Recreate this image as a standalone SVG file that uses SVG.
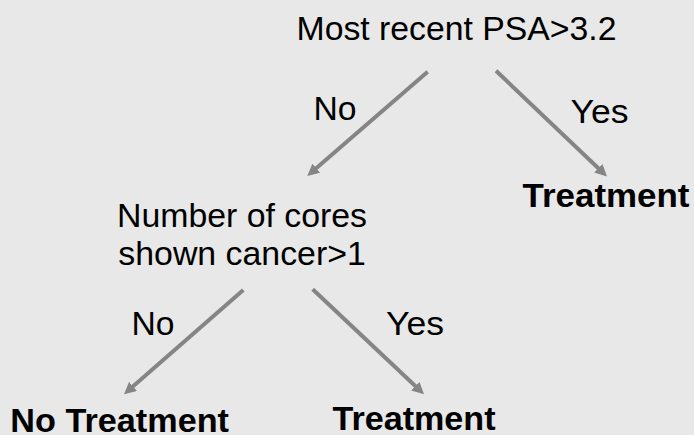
<svg xmlns="http://www.w3.org/2000/svg" width="694" height="435" viewBox="0 0 694 435">
  <defs>
    <style>
      .t { font-family: "Liberation Sans", Arial, Helvetica, sans-serif; font-size: 32.5px; fill: #000; }
      .b { font-weight: bold; }
      .edge { stroke: #858585; stroke-width: 4; fill: none; }
    </style>
    <marker id="arr" viewBox="0 0 12 12" refX="4" refY="6" markerWidth="12" markerHeight="12" markerUnits="userSpaceOnUse" orient="auto">
      <path d="M0,0 L12,6 L0,12 z" fill="#858585"/>
    </marker>
  </defs>
  <rect x="0" y="0" width="694" height="435" fill="#e8e8e8"/>

  <g id="connectors">
    <line class="edge" x1="427.7" y1="71.7" x2="313.3" y2="170.8" marker-end="url(#arr)"/>
    <line class="edge" x1="496" y1="70.7" x2="601.2" y2="171" marker-end="url(#arr)"/>
    <line class="edge" x1="243.3" y1="290" x2="130" y2="389" marker-end="url(#arr)"/>
    <line class="edge" x1="312.7" y1="289.3" x2="418.2" y2="388.8" marker-end="url(#arr)"/>
    <text class="t" x="313.5" y="120" textLength="43" lengthAdjust="spacingAndGlyphs">No</text>
    <text class="t" x="570.5" y="123.3" textLength="58" lengthAdjust="spacingAndGlyphs">Yes</text>
    <text class="t" x="131.5" y="335" textLength="43" lengthAdjust="spacingAndGlyphs">No</text>
    <text class="t" x="386" y="335" textLength="58" lengthAdjust="spacingAndGlyphs">Yes</text>
  </g>

  <g id="node-psa">
    <text class="t" x="296.5" y="40" textLength="320" lengthAdjust="spacingAndGlyphs">Most recent PSA&gt;3.2</text>
  </g>

  <g id="node-treatment-1">
    <text class="t b" x="522.5" y="206.7" textLength="167" lengthAdjust="spacingAndGlyphs">Treatment</text>
  </g>

  <g id="node-cores">
    <text class="t" x="117" y="226.7" textLength="250" lengthAdjust="spacingAndGlyphs">Number of cores</text>
    <text class="t" x="118.3" y="265" textLength="247.5" lengthAdjust="spacingAndGlyphs">shown cancer&gt;1</text>
  </g>

  <g id="node-no-treatment">
    <text class="t b" x="10.3" y="431.5" textLength="218.7" lengthAdjust="spacingAndGlyphs">No Treatment</text>
  </g>

  <g id="node-treatment-2">
    <text class="t b" x="332.5" y="430" textLength="163" lengthAdjust="spacingAndGlyphs">Treatment</text>
  </g>
</svg>
